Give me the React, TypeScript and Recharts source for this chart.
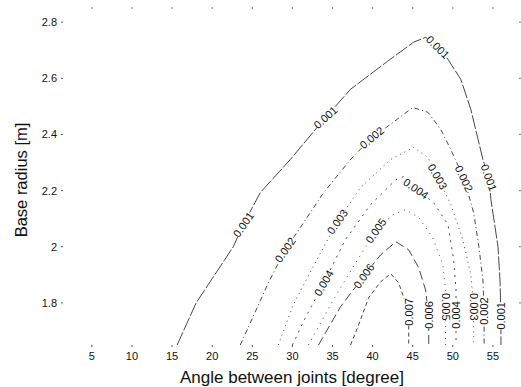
import { ComposedChart, Line, Scatter, XAxis, YAxis } from "recharts";

// ─── Data ─────────────────────────────────────────────────────────────────────

const xTicks = [5, 10, 15, 20, 25, 30, 35, 40, 45, 50, 55];
const yTicks = [1.8, 2, 2.2, 2.4, 2.6, 2.8];

// contour lines as [angle, radius]
const level001: [number, number][] = [
  [15.63, 1.65], [18.0, 1.8], [22.63, 2.0], [23.88, 2.079], [26.0, 2.193],
  [29.75, 2.311], [34.13, 2.461], [37.25, 2.561], [41.88, 2.661], [45.13, 2.729],
  [46.63, 2.746], [48.13, 2.711], [49.38, 2.668], [51.0, 2.596], [52.25, 2.489],
  [53.75, 2.311], [54.5, 2.246], [54.75, 2.168], [55.63, 2.0], [55.88, 1.882],
  [56.0, 1.754], [56.0, 1.65],
];
const level002: [number, number][] = [
  [23.5, 1.65], [27.0, 1.871], [29.1, 1.989], [31.4, 2.086], [33.9, 2.193],
  [37.25, 2.311], [39.9, 2.389], [41.9, 2.429], [45.0, 2.496], [46.9, 2.479],
  [48.5, 2.418], [49.75, 2.346], [51.4, 2.243], [52.6, 2.121], [53.25, 2.0],
  [53.75, 1.882], [53.9, 1.771], [53.9, 1.65],
];
const level003: [number, number][] = [
  [28.25, 1.65], [30.1, 1.793], [32.9, 1.946], [35.6, 2.089], [38.5, 2.211],
  [42.25, 2.311], [45.1, 2.354], [46.9, 2.318], [48.1, 2.25], [49.75, 2.15],
  [51.25, 2.025], [52.25, 1.9], [52.6, 1.786], [52.6, 1.65],
];
const level004: [number, number][] = [
  [30.0, 1.65], [31.6, 1.746], [33.9, 1.871], [36.6, 2.025], [39.75, 2.15],
  [42.9, 2.239], [43.9, 2.25], [45.4, 2.207], [47.6, 2.157], [49.4, 2.079],
  [50.1, 1.954], [50.4, 1.846], [50.4, 1.757], [50.4, 1.65],
];
const level005: [number, number][] = [
  [32.0, 1.65], [34.75, 1.793], [37.5, 1.925], [40.4, 2.057], [42.5, 2.114],
  [44.1, 2.132], [45.75, 2.104], [47.5, 2.032], [48.75, 1.936], [49.1, 1.846],
  [49.1, 1.786], [49.1, 1.65],
];
const level006: [number, number][] = [
  [33.25, 1.65], [36.0, 1.786], [38.9, 1.896], [41.0, 1.971], [42.9, 2.018],
  [44.5, 1.989], [45.75, 1.925], [46.6, 1.846], [47.0, 1.757], [47.0, 1.65],
];
const level007: [number, number][] = [
  [37.25, 1.65], [38.25, 1.721], [39.5, 1.818], [41.0, 1.875], [42.25, 1.904],
  [43.25, 1.871], [43.9, 1.818], [44.5, 1.768], [44.5, 1.65],
];

const contourLevels = ["0.001", "0.002", "0.003", "0.004", "0.005", "0.006", "0.007"];
const contourLines = [level001, level002, level003, level004, level005, level006, level007];

// inline contour labels, [angle, radius]
const contourLabels: { text: string; x: number; y: number }[] = [
  { text: "0.001", x: 23.88, y: 2.079 },
  { text: "0.001", x: 34.13, y: 2.461 },
  { text: "0.001", x: 48.13, y: 2.711 },
  { text: "0.001", x: 54.5, y: 2.246 },
  { text: "0.001", x: 56.0, y: 1.754 },
  { text: "0.002", x: 29.1, y: 1.989 },
  { text: "0.002", x: 39.9, y: 2.389 },
  { text: "0.002", x: 51.4, y: 2.243 },
  { text: "0.002", x: 53.9, y: 1.771 },
  { text: "0.003", x: 35.6, y: 2.089 },
  { text: "0.003", x: 48.1, y: 2.25 },
  { text: "0.003", x: 52.6, y: 1.786 },
  { text: "0.004", x: 45.4, y: 2.207 },
  { text: "0.004", x: 33.9, y: 1.871 },
  { text: "0.004", x: 50.4, y: 1.757 },
  { text: "0.005", x: 40.4, y: 2.057 },
  { text: "0.005", x: 49.1, y: 1.786 },
  { text: "0.006", x: 38.9, y: 1.896 },
  { text: "0.006", x: 47.0, y: 1.757 },
  { text: "0.007", x: 44.5, y: 1.768 },
];
const labelAngles = [
  -55, -42, 45, 70, -90,
  -55, -40, 65, -90,
  -55, 60, 90,
  35, -60, -90,
  -55, 90,
  -55, -90,
  -90,
];

// ─── Styles ───────────────────────────────────────────────────────────────────

const FONT = "'Liberation Sans', Arial, Helvetica, sans-serif";
const dashes = ["14 2", "5 3 1 3", "1 4", "2 5", "1 5", "9 4", "4 3"];

const toPoints = (arr: [number, number][]) => arr.map(([x, y]) => ({ x, y }));
const labelData = contourLabels.map((l, i) => ({ ...l, angle: labelAngles[i] }));

// ─── Pieces ───────────────────────────────────────────────────────────────────

function ContourLabel(props: any) {
  const { cx, cy, payload } = props;
  if (cx == null || cy == null) return null;
  const w = 27;
  return (
    <g transform={`rotate(${payload.angle} ${cx} ${cy})`}>
      <rect x={cx - w / 2} y={cy - 5} width={w} height={10} fill="#fff" />
      <text
        x={cx}
        y={cy + 4}
        textAnchor="middle"
        fontSize={11}
        fontFamily={FONT}
        fill="#111"
      >
        {payload.text}
      </text>
    </g>
  );
}

function YTitle({ viewBox }: any) {
  const cy = viewBox.y + viewBox.height / 2 + 4;
  return (
    <text
      x={21}
      y={cy}
      transform={`rotate(-90 21 ${cy})`}
      textAnchor="middle"
      dominantBaseline="central"
      fontSize={16.5}
      fontFamily={FONT}
      fill="#111"
    >
      Base radius [m]
    </text>
  );
}

const noTick = () => <g />;

// ─── Component ────────────────────────────────────────────────────────────────

export default function App() {
  return (
    <div style={{ position: "absolute", left: 0, top: 0, background: "#fff" }}>
      <ComposedChart
        width={521}
        height={387}
        margin={{ top: 7, right: 0, bottom: 0, left: 0 }}
      >
        <XAxis
          xAxisId="bottom"
          dataKey="x"
          type="number"
          domain={[1.4, 58.5]}
          ticks={xTicks}
          allowDataOverflow
          axisLine={false}
          tickSize={2}
          tickMargin={5}
          height={42}
          tick={{ fontSize: 11, fontFamily: FONT, fill: "#111" }}
          tickLine={{ stroke: "#555" }}
          label={{
            value: "Angle between joints [degree]",
            position: "insideBottom",
            offset: 4,
            style: { fontSize: 17, fontFamily: FONT, fill: "#111" },
          }}
        />
        <XAxis
          xAxisId="top"
          orientation="top"
          dataKey="x"
          type="number"
          domain={[1.4, 58.5]}
          ticks={xTicks}
          allowDataOverflow
          axisLine={false}
          mirror
          tickSize={2}
          height={1}
          tick={noTick}
          tickLine={{ stroke: "#777" }}
        />
        <YAxis
          yAxisId="left"
          dataKey="y"
          type="number"
          domain={[1.65, 2.854]}
          ticks={yTicks}
          allowDataOverflow
          axisLine={false}
          tickSize={2}
          tickMargin={4}
          width={63}
          tick={{ fontSize: 11, fontFamily: FONT, fill: "#111" }}
          tickLine={{ stroke: "#555" }}
          tickFormatter={(v: number) => String(v)}
          label={<YTitle />}
        />
        <YAxis
          yAxisId="right"
          orientation="right"
          dataKey="y"
          type="number"
          domain={[1.65, 2.854]}
          ticks={yTicks}
          allowDataOverflow
          axisLine={false}
          mirror
          tickSize={2}
          width={1}
          tick={noTick}
          tickLine={{ stroke: "#777" }}
        />

        {contourLines.map((pts, i) => (
          <Line
            key={contourLevels[i]}
            xAxisId="bottom"
            yAxisId="left"
            data={toPoints(pts)}
            dataKey="y"
            type="linear"
            stroke="#333"
            strokeWidth={0.9}
            strokeDasharray={dashes[i]}
            dot={false}
            activeDot={false}
            isAnimationActive={false}
          />
        ))}

        <Scatter
          xAxisId="bottom"
          yAxisId="left"
          data={labelData}
          dataKey="y"
          shape={<ContourLabel />}
          isAnimationActive={false}
        />
      </ComposedChart>
    </div>
  );
}
